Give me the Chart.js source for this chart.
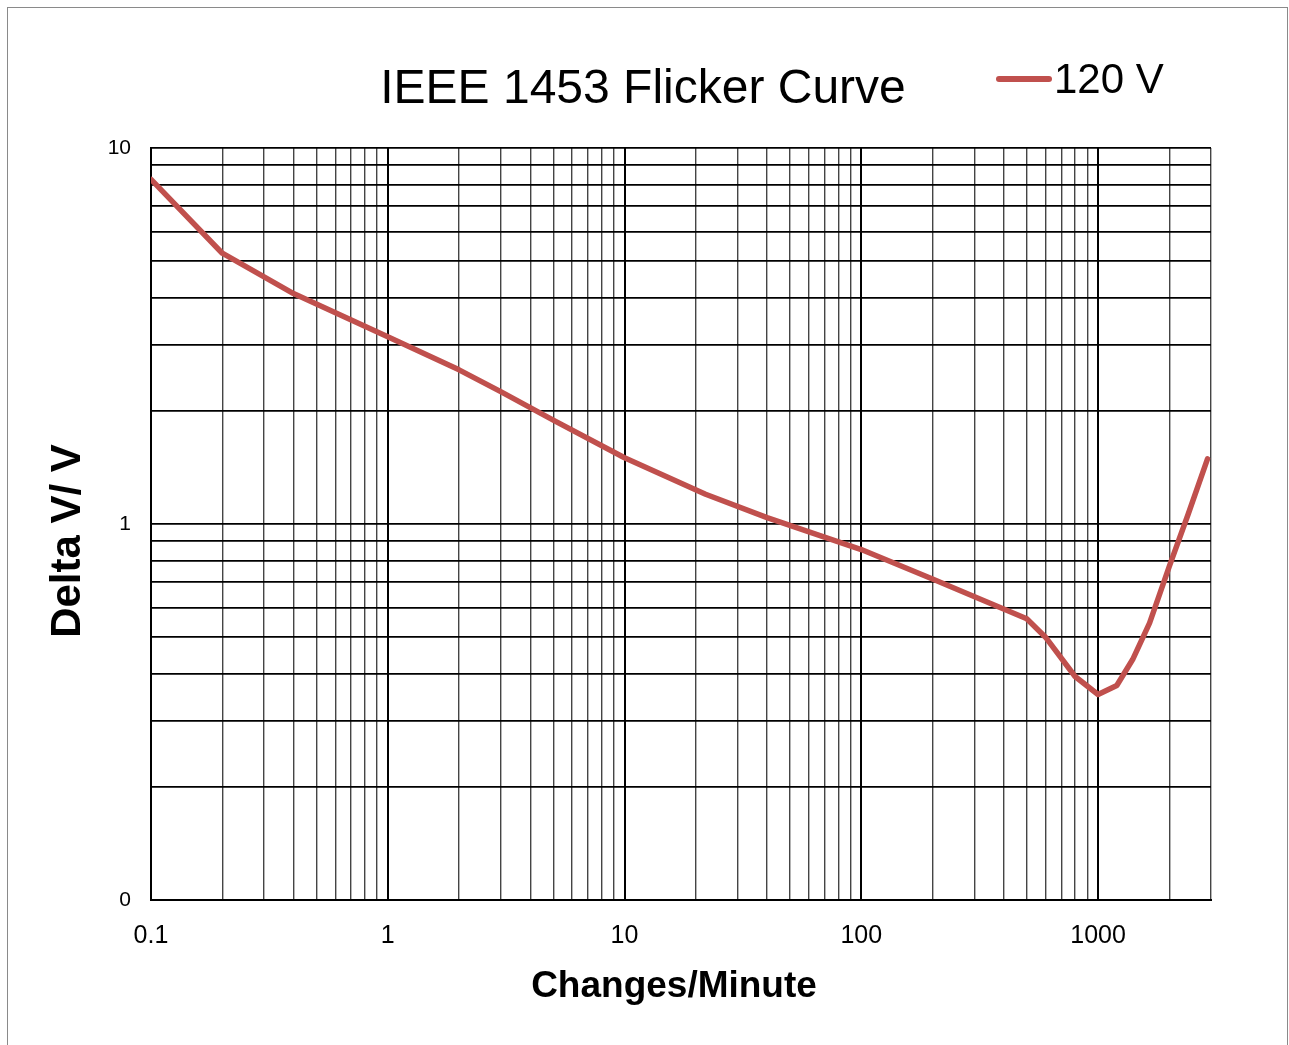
<!DOCTYPE html>
<html>
<head>
<meta charset="utf-8">
<title>IEEE 1453 Flicker Curve</title>
<script src="https://cdn.jsdelivr.net/npm/chart.js@4.4.1/dist/chart.umd.min.js"></script>
<style>
  html, body { margin: 0; padding: 0; background: #fff; overflow: hidden; }
  #frame { position: absolute; left: 7px; top: 7px; width: 1279px; height: 1100px; border: 1.5px solid #8a8a8a; }
  #wrap { position: absolute; left: 0; top: 0; width: 1289px; height: 1045px; }
</style>
</head>
<body>
<div id="frame"></div>
<div id="wrap"><canvas id="flickerChart"></canvas></div>
<script>
// data (120 V lamp)
const changesPerMinute = [0.1, 0.2, 0.4, 1, 2, 3, 5, 10, 22, 40, 100, 200, 500, 600, 800, 1000, 1200, 1400, 1650, 2000, 2400, 2900];
const deltaV120 = [8.25, 5.25, 4.1, 3.15, 2.57, 2.25, 1.89, 1.5, 1.2, 1.04, 0.855, 0.714, 0.56, 0.5, 0.393, 0.352, 0.372, 0.436, 0.545, 0.771, 1.06, 1.49];

// grid / tick setup
const gridSteps = [1, 2, 3, 4, 5, 6, 7, 8, 9];
const xDecades = [0.1, 1, 10, 100, 1000];
const xTickLabels = ['0.1', '1', '10', '100', '1000'];
const yDecades = [0.1, 1, 10];
const yTickLabels = ['0', '1', '10'];

const chartTitle = 'IEEE 1453 Flicker Curve';
const xTitle = 'Changes/Minute';
const yTitle = 'Delta V/ V';
const seriesName = '120 V';
const lineColor = '#C0504D';
const fontFamily = "'Liberation Sans', Arial, sans-serif";

function gridValues(decades, max){
    let values = [];
    decades.forEach(function(d){
        gridSteps.forEach(function(s){
            let v = +(d * s).toPrecision(6);
            if (v <= max) values.push(v);
        });
    });
    return values;
}

let xGrid = gridValues(xDecades, 3000);
let yGrid = gridValues(yDecades, 10);

// title, legend and axis titles
const headerPlugin = {
    id: 'header',
    afterDraw(chart){
        let ctx = chart.ctx;
        let ds = chart.data.datasets[0];
        ctx.save();
        ctx.fillStyle = '#000';
        ctx.textBaseline = 'alphabetic';
        ctx.textAlign = 'center';
        ctx.font = '48px ' + fontFamily;
        ctx.fillText(chartTitle, 643, 103);

        // legend
        ctx.strokeStyle = ds.borderColor;
        ctx.lineWidth = 6;
        ctx.lineCap = 'round';
        ctx.beginPath();
        ctx.moveTo(999, 79);
        ctx.lineTo(1049, 79);
        ctx.stroke();
        ctx.textAlign = 'left';
        ctx.font = '42px ' + fontFamily;
        ctx.fillText(ds.label, 1054, 93);

        // axis titles
        ctx.textAlign = 'center';
        ctx.font = 'bold 37px ' + fontFamily;
        ctx.fillText(xTitle, 674, 997);

        ctx.translate(80, 541);
        ctx.rotate(-Math.PI / 2);
        ctx.font = 'bold 42px ' + fontFamily;
        ctx.fillText(yTitle, 0, 0);
        ctx.restore();
    }
};

let flickerChart = new Chart(document.getElementById('flickerChart'), {
    type: 'line',
    data: {
        datasets: [{
            label: seriesName,
            data: changesPerMinute.map(function(x, i){ return {x: x, y: deltaV120[i]}; }),
            borderColor: lineColor,
            backgroundColor: lineColor,
            borderWidth: 5.5,
            pointRadius: 0,
            tension: 0,
            fill: false,
            borderCapStyle: 'round',
            borderJoinStyle: 'round'
        }]
    },
    options: {
        responsive: true,
        maintainAspectRatio: false,
        animation: false,
        layout: { padding: { top: 148, right: 78, bottom: 0, left: 0 } },
        plugins: {
            legend: { display: false },
            title: { display: false },
            tooltip: { enabled: false }
        },
        scales: {
            x: {
                type: 'logarithmic',
                min: 0.1,
                max: 3000,
                afterBuildTicks: function(scale){
                    scale.ticks = xGrid.map(function(v){ return {value: v}; });
                },
                afterFit: function(scale){ scale.height = 145; },
                ticks: {
                    autoSkip: false,
                    maxRotation: 0,
                    padding: 21,
                    color: '#000',
                    font: { family: fontFamily, size: 25 },
                    callback: function(value){
                        let i = xDecades.indexOf(value);
                        return i >= 0 ? xTickLabels[i] : '';
                    }
                },
                grid: {
                    drawTicks: false,
                    color: function(c){ return xDecades.includes(c.tick.value) ? '#000' : '#444'; },
                    lineWidth: function(c){ return xDecades.includes(c.tick.value) ? 2 : 1.4; }
                },
                border: { display: true, color: '#000', width: 2 }
            },
            y: {
                type: 'logarithmic',
                min: 0.1,
                max: 10,
                afterBuildTicks: function(scale){
                    scale.ticks = yGrid.map(function(v){ return {value: v}; });
                },
                afterFit: function(scale){ scale.width = 151; },
                ticks: {
                    autoSkip: false,
                    padding: 20,
                    color: '#000',
                    font: { family: fontFamily, size: 21 },
                    callback: function(value){
                        let i = yDecades.indexOf(value);
                        return i >= 0 ? yTickLabels[i] : '';
                    }
                },
                grid: {
                    drawTicks: false,
                    color: '#000',
                    lineWidth: 1.8
                },
                border: { display: true, color: '#000', width: 2 }
            }
        }
    },
    plugins: [headerPlugin]
});
</script>
</body>
</html>
